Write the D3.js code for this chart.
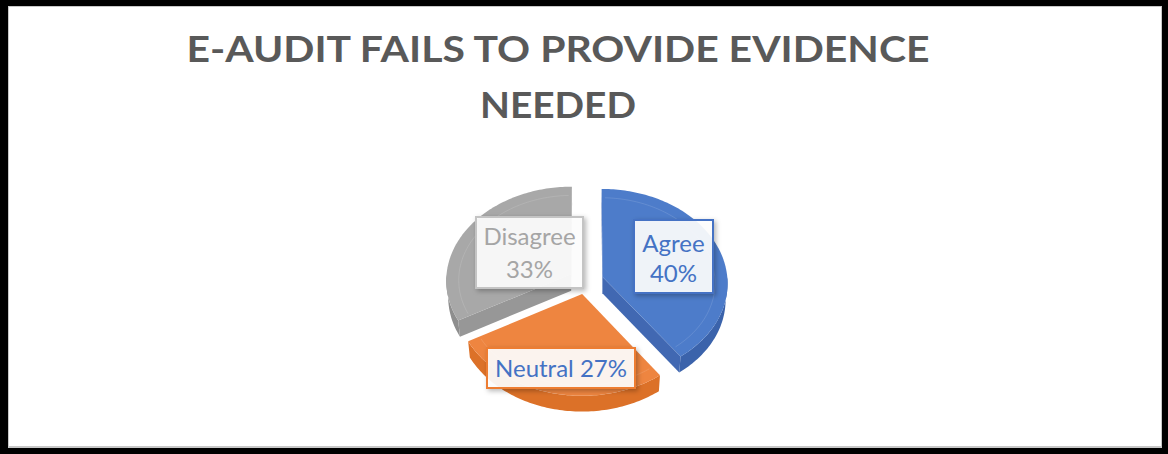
<!DOCTYPE html>
<html>
<head>
<meta charset="utf-8">
<script src="https://cdn.jsdelivr.net/npm/d3@7"></script>
<style>
  html, body { margin: 0; padding: 0; background: #000; }
  svg { display: block; }
</style>
</head>
<body>
<svg id="chart" width="1168" height="454"></svg>
<script>
// ---- data ----
const titleLines = ["E-AUDIT FAILS TO PROVIDE EVIDENCE", "NEEDED"];
const categories = ["Agree", "Neutral", "Disagree"];
const values = [40, 27, 33];
const labelTexts = [["Agree", "40%"], ["Neutral 27%"], ["Disagree", "33%"]];

// ---- style ----
const topColors  = ["#4d7cca", "#ee8540", "#a8a8a8"];
const sideColors = ["#3b63ab", "#dc7128", "#8e8e8e"];
const cutColors  = ["#4168b2", "#e27a33", "#979797"];
const boxStroke  = ["#4472c4", "#ed7d31", "#c4c4c4"];
const textColors = ["#4472c4", "#4472c4", "#a5a5a5"];

// title line widths (condensed bold face)
const titleWidths = [743, 156];

// label boxes: position, size and text baselines
const labelBoxes = [
  { x: 634, y: 220, w: 79,  h: 73, cx: 673.5, base: [252, 282] },
  { x: 487, y: 348, w: 148, h: 40, cx: 561,   base: [377] },
  { x: 476, y: 217, w: 107, h: 71, cx: 529.5, base: [245, 278] }
];

const W = 1168, H = 454;
const svg = d3.select("#chart");

// frame
svg.append("rect").attr("width", W).attr("height", H).attr("fill", "#000");
svg.append("rect").attr("x", 8).attr("y", 6).attr("width", 1154).attr("height", 442)
  .attr("fill", "#c8c8c8");
svg.append("rect").attr("x", 9).attr("y", 7).attr("width", 1152).attr("height", 439)
  .attr("fill", "#fff");

// title
svg.append("g").selectAll("text").data(titleLines).join("text")
  .attr("x", 558)
  .attr("y", (d, i) => 62 + i * 56)
  .attr("text-anchor", "middle")
  .attr("font-family", "Lato, 'Open Sans', sans-serif")
  .attr("font-weight", 700)
  .attr("font-size", 36.5)
  .attr("textLength", (d, i) => titleWidths[i])
  .attr("lengthAdjust", "spacingAndGlyphs")
  .attr("fill", "#595959")
  .text(d => d);

// ---- 3D pie projection ----
const cx = 586, cy = 281;           // screen position of pie centre
const D = 10.7;                     // camera distance (disk radius = 1)
const phi = 48.7 * Math.PI / 180;   // camera elevation
const f = 125 * D;                  // focal scale
const thick = 0.2;                  // pie thickness
const explode = 0.14;               // slice explosion
const sinP = Math.sin(phi), cosP = Math.cos(phi);
const cam = [0, D * sinP, D * cosP];

function project(X, Y, Z) {
  const yp = Z * sinP - Y * cosP;
  const d = D - Z * cosP - Y * sinP;
  return [cx + f * X / d, cy + f * yp / d];
}

const pie = d3.pie().sort(null).value(d => d);
const arcs = pie(values);
const line = d3.line();

const defs = svg.append("defs");
const shadow = defs.append("filter").attr("id", "shadow")
  .attr("x", "-20%").attr("y", "-20%").attr("width", "150%").attr("height", "160%");
shadow.append("feDropShadow").attr("dx", 2).attr("dy", 2).attr("stdDeviation", 2.5)
  .attr("flood-color", "#000").attr("flood-opacity", 0.3);

const pieG = svg.append("g");

function rimPoints(a0, a1, ox, oz, Y) {
  const n = Math.max(2, Math.ceil((a1 - a0) / 0.02));
  const pts = [];
  for (let i = 0; i <= n; i++) {
    const t = a0 + (a1 - a0) * i / n;
    pts.push(project(ox + Math.sin(t), Y, oz - Math.cos(t)));
  }
  return pts;
}

function visible(normal, point) {
  const v = [cam[0] - point[0], cam[1] - point[1], cam[2] - point[2]];
  return normal[0] * v[0] + normal[1] * v[1] + normal[2] * v[2] > 0;
}

// draw back slices first
const order = arcs.map((a, i) => i).sort((i, j) => {
  const zi = -Math.cos((arcs[i].startAngle + arcs[i].endAngle) / 2);
  const zj = -Math.cos((arcs[j].startAngle + arcs[j].endAngle) / 2);
  return zi - zj;
});

order.forEach(i => {
  const a = arcs[i];
  const mid = (a.startAngle + a.endAngle) / 2;
  const ox = explode * Math.sin(mid), oz = -explode * Math.cos(mid);
  const g = pieG.append("g");

  // outer rim wall (front half only)
  const s0 = Math.max(a.startAngle, Math.PI / 2), s1 = Math.min(a.endAngle, 3 * Math.PI / 2);
  if (s1 > s0) {
    const topArc = rimPoints(s0, s1, ox, oz, 0);
    const botArc = rimPoints(s0, s1, ox, oz, -thick).reverse();
    g.append("path").attr("d", line(topArc.concat(botArc)) + "Z")
      .attr("fill", sideColors[i]);
  }

  // radial cut faces
  [a.startAngle, a.endAngle].forEach((t, k) => {
    const dir = [Math.sin(t), 0, -Math.cos(t)];
    const tang = [Math.cos(t), 0, Math.sin(t)];
    const normal = k === 0 ? tang.map(v => -v) : tang;
    const p = [ox + dir[0] * 0.5, -thick / 2, oz + dir[2] * 0.5];
    if (!visible(normal, p)) return;
    const quad = [
      project(ox, 0, oz),
      project(ox + dir[0], 0, oz + dir[2]),
      project(ox + dir[0], -thick, oz + dir[2]),
      project(ox, -thick, oz)
    ];
    g.append("path").attr("d", line(quad) + "Z").attr("fill", cutColors[i]);
  });

  // top face
  const top = [project(ox, 0, oz)].concat(rimPoints(a.startAngle, a.endAngle, ox, oz, 0));
  g.append("path").attr("d", line(top) + "Z").attr("fill", topColors[i]);

  // faint bevel line just inside the top face
  const c = project(ox, 0, oz);
  const innerPts = rimPoints(a.startAngle + 0.03, a.endAngle - 0.03, ox, oz, 0)
    .map(p => [c[0] + (p[0] - c[0]) * 0.9, c[1] + (p[1] - c[1]) * 0.9]);
  g.append("path").attr("d", line(innerPts))
    .attr("fill", "none").attr("stroke", "#fff").attr("stroke-opacity", 0.12).attr("stroke-width", 1);
});

// ---- data labels ----
const labels = svg.append("g").selectAll("g").data(arcs).join("g");
labels.append("rect")
  .attr("x", (d, i) => labelBoxes[i].x)
  .attr("y", (d, i) => labelBoxes[i].y)
  .attr("width", (d, i) => labelBoxes[i].w)
  .attr("height", (d, i) => labelBoxes[i].h)
  .attr("fill", "#fff").attr("fill-opacity", 0.9)
  .attr("stroke", (d, i) => boxStroke[i]).attr("stroke-width", 2)
  .attr("filter", "url(#shadow)");
labels.each(function (d, i) {
  d3.select(this).selectAll("text").data(labelTexts[i]).join("text")
    .attr("x", labelBoxes[i].cx)
    .attr("y", (t, k) => labelBoxes[i].base[k])
    .attr("text-anchor", "middle")
    .attr("font-family", "Lato, 'Open Sans', sans-serif")
    .attr("font-size", 24)
    .attr("fill", textColors[i])
    .text(t => t);
});
</script>
</body>
</html>
